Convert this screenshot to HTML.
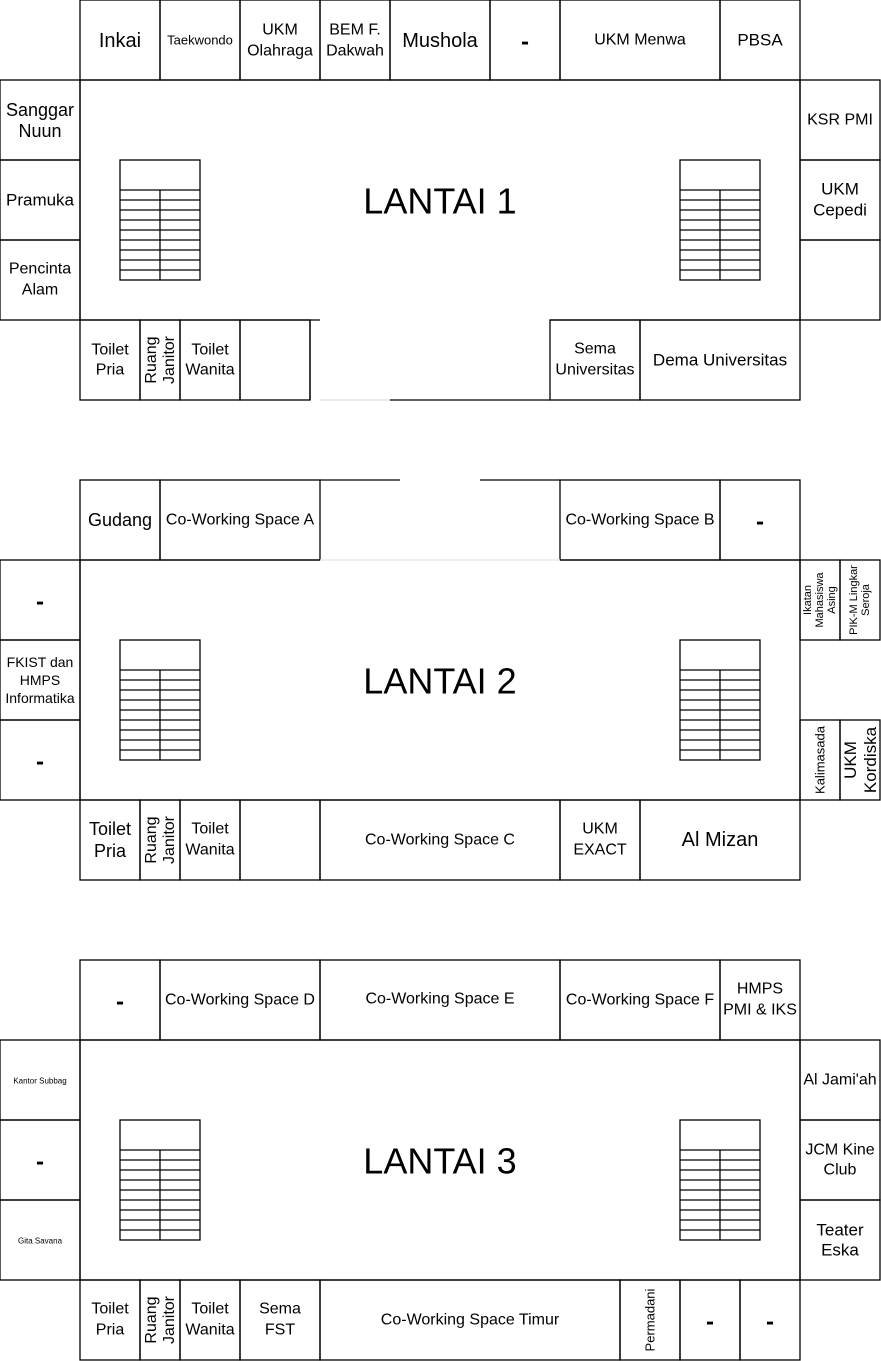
<!DOCTYPE html>
<html><head><meta charset="utf-8"><style>
html,body{margin:0;padding:0;background:#fff;}
svg{display:block;}
text{font-family:"Liberation Sans",sans-serif;fill:#000;text-anchor:middle;dominant-baseline:central;}
</style></head><body>
<svg width="881" height="1361" viewBox="0 0 881 1361" xmlns="http://www.w3.org/2000/svg">
<defs>
<g id="st" fill="none" stroke="#000" stroke-width="1.3">
<rect x="0" y="0" width="80" height="120"/>
<path d="M0 30H80M0 40H80M0 50H80M0 60H80M0 70H80M0 80H80M0 90H80M0 100H80M0 110H80M40 30V120"/>
</g>
</defs>
<g fill="none" stroke="#000" stroke-width="1.3">
<rect x="80" y="0" width="80" height="80"/><rect x="160" y="0" width="80" height="80"/><rect x="240" y="0" width="80" height="80"/><rect x="320" y="0" width="70" height="80"/><rect x="390" y="0" width="100" height="80"/><rect x="490" y="0" width="70" height="80"/><rect x="560" y="0" width="160" height="80"/><rect x="720" y="0" width="80" height="80"/>
<path d="M80 320V80H800V320H550M80 320H320"/>
<rect x="0" y="80" width="80" height="80"/><rect x="0" y="160" width="80" height="80"/><rect x="0" y="240" width="80" height="80"/>
<rect x="800" y="80" width="80" height="80"/><rect x="800" y="160" width="80" height="80"/><rect x="800" y="240" width="80" height="80"/>
<rect x="80" y="320" width="60" height="80"/><rect x="140" y="320" width="40" height="80"/><rect x="180" y="320" width="60" height="80"/><rect x="240" y="320" width="70" height="80"/>
<path d="M310 320V400M390 400H550"/>
<path d="M320 400H390" stroke="#ddd"/>
<rect x="550" y="320" width="90" height="80"/><rect x="640" y="320" width="160" height="80"/>
<rect x="80" y="480" width="80" height="80"/><rect x="160" y="480" width="160" height="80"/><rect x="560" y="480" width="160" height="80"/><rect x="720" y="480" width="80" height="80"/>
<path d="M320 480H400M480 480H560"/>
<path d="M320 560H560" stroke="#e5e5e5"/>
<path d="M320 560H80V800H800V560H560"/>
<rect x="0" y="560" width="80" height="80"/><rect x="0" y="640" width="80" height="80"/><rect x="0" y="720" width="80" height="80"/>
<rect x="800" y="560" width="40" height="80"/><rect x="840" y="560" width="40" height="80"/>
<rect x="800" y="720" width="40" height="80"/><rect x="840" y="720" width="40" height="80"/>
<rect x="80" y="800" width="60" height="80"/><rect x="140" y="800" width="40" height="80"/><rect x="180" y="800" width="60" height="80"/><rect x="240" y="800" width="80" height="80"/><rect x="320" y="800" width="240" height="80"/><rect x="560" y="800" width="80" height="80"/><rect x="640" y="800" width="160" height="80"/>
<rect x="80" y="960" width="80" height="80"/><rect x="160" y="960" width="160" height="80"/><rect x="320" y="960" width="240" height="80"/><rect x="560" y="960" width="160" height="80"/><rect x="720" y="960" width="80" height="80"/>
<rect x="80" y="1040" width="720" height="240"/>
<rect x="0" y="1040" width="80" height="80"/><rect x="0" y="1120" width="80" height="80"/><rect x="0" y="1200" width="80" height="80"/>
<rect x="800" y="1040" width="80" height="80"/><rect x="800" y="1120" width="80" height="80"/><rect x="800" y="1200" width="80" height="80"/>
<rect x="80" y="1280" width="60" height="80"/><rect x="140" y="1280" width="40" height="80"/><rect x="180" y="1280" width="60" height="80"/><rect x="240" y="1280" width="80" height="80"/><rect x="320" y="1280" width="300" height="80"/><rect x="620" y="1280" width="60" height="80"/><rect x="680" y="1280" width="60" height="80"/><rect x="740" y="1280" width="60" height="80"/>
</g>
<use href="#st" x="120" y="160"/><use href="#st" x="680" y="160"/>
<use href="#st" x="120" y="640"/><use href="#st" x="680" y="640"/>
<use href="#st" x="120" y="1120"/><use href="#st" x="680" y="1120"/>

<g font-size="16">
<text x="120" y="41" font-size="20">Inkai</text>
<text x="200" y="40" font-size="13">Taekwondo</text>
<text x="280" y="30">UKM</text><text x="280" y="51">Olahraga</text>
<text x="355" y="30">BEM F.</text><text x="355" y="51">Dakwah</text>
<text x="440" y="41" font-size="20">Mushola</text>
<text x="525" y="42" font-size="24" font-weight="bold">-</text>
<text x="640" y="40">UKM Menwa</text>
<text x="760" y="40" font-size="17">PBSA</text>
<text x="40" y="110" font-size="18">Sanggar</text><text x="40" y="131" font-size="18">Nuun</text>
<text x="40" y="200" font-size="17">Pramuka</text>
<text x="40" y="269">Pencinta</text><text x="40" y="290">Alam</text>
<text x="840" y="120">KSR PMI</text>
<text x="840" y="189" font-size="17">UKM</text><text x="840" y="210" font-size="17">Cepedi</text>
<text x="440" y="201" font-size="36">LANTAI 1</text>
<text x="110" y="350">Toilet</text><text x="110" y="370">Pria</text>
<text transform="translate(160 360) rotate(-90)"><tspan x="0" y="-9">Ruang</tspan><tspan x="0" y="9">Janitor</tspan></text>
<text x="210" y="350">Toilet</text><text x="210" y="370">Wanita</text>
<text x="595" y="349">Sema</text><text x="595" y="370">Universitas</text>
<text x="720" y="360" font-size="17">Dema Universitas</text>
<text x="120" y="520" font-size="18">Gudang</text>
<text x="240" y="520">Co-Working Space A</text>
<text x="640" y="520">Co-Working Space B</text>
<text x="760" y="522" font-size="24" font-weight="bold">-</text>
<text x="40" y="602" font-size="24" font-weight="bold">-</text>
<text x="40" y="662" font-size="14">FKIST dan</text><text x="40" y="680" font-size="14">HMPS</text><text x="40" y="698" font-size="14">Informatika</text>
<text x="40" y="762" font-size="24" font-weight="bold">-</text>
<text transform="translate(820 600) rotate(-90)" font-size="11"><tspan x="0" y="-12">Ikatan</tspan><tspan x="0" y="0">Mahasiswa</tspan><tspan x="0" y="12">Asing</tspan></text>
<text transform="translate(860 600) rotate(-90)" font-size="11"><tspan x="0" y="-6">PIK-M Lingkar</tspan><tspan x="0" y="6">Seroja</tspan></text>
<text transform="translate(820 760) rotate(-90)" font-size="13">Kalimasada</text>
<text transform="translate(860 760) rotate(-90)" font-size="17"><tspan x="0" y="-10">UKM</tspan><tspan x="0" y="10">Kordiska</tspan></text>
<text x="440" y="681" font-size="36">LANTAI 2</text>
<text x="110" y="829" font-size="18">Toilet</text><text x="110" y="851" font-size="18">Pria</text>
<text transform="translate(160 840) rotate(-90)"><tspan x="0" y="-9">Ruang</tspan><tspan x="0" y="9">Janitor</tspan></text>
<text x="210" y="829">Toilet</text><text x="210" y="850">Wanita</text>
<text x="440" y="840">Co-Working Space C</text>
<text x="600" y="829">UKM</text><text x="600" y="850">EXACT</text>
<text x="720" y="840" font-size="20">Al Mizan</text>
<text x="120" y="1002" font-size="24" font-weight="bold">-</text>
<text x="240" y="1000">Co-Working Space D</text>
<text x="440" y="999">Co-Working Space E</text>
<text x="640" y="1000">Co-Working Space F</text>
<text x="760" y="989">HMPS</text><text x="760" y="1010">PMI &amp; IKS</text>
<text x="40" y="1081" font-size="8">Kantor Subbag</text>
<text x="40" y="1162" font-size="24" font-weight="bold">-</text>
<text x="40" y="1241" font-size="8">Gita Savana</text>
<text x="840" y="1080">Al Jami'ah</text>
<text x="840" y="1150">JCM Kine</text><text x="840" y="1170">Club</text>
<text x="840" y="1230" font-size="17">Teater</text><text x="840" y="1250" font-size="17">Eska</text>
<text x="440" y="1161" font-size="36">LANTAI 3</text>
<text x="110" y="1309">Toilet</text><text x="110" y="1330">Pria</text>
<text transform="translate(160 1320) rotate(-90)"><tspan x="0" y="-9">Ruang</tspan><tspan x="0" y="9">Janitor</tspan></text>
<text x="210" y="1309">Toilet</text><text x="210" y="1330">Wanita</text>
<text x="280" y="1309">Sema</text><text x="280" y="1330">FST</text>
<text x="470" y="1320">Co-Working Space Timur</text>
<text transform="translate(650 1320) rotate(-90)" font-size="13">Permadani</text>
<text x="710" y="1322" font-size="24" font-weight="bold">-</text>
<text x="770" y="1322" font-size="24" font-weight="bold">-</text>
</g>
</svg>
</body></html>
